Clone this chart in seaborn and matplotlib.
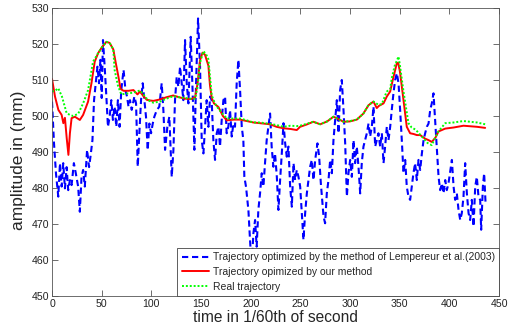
import matplotlib
matplotlib.use("Agg")
import matplotlib.pyplot as plt
import seaborn as sns
import pandas as pd

# blue: Lempereur et al. (2003)
lemp_t = [0, 2, 4, 6.3, 8, 9.7, 11.3, 13, 14.7, 16.3, 18, 19.7, 22, 24, 26.3, 28, 29.7, 31.3, 33,
          35.3, 37.3, 38.7, 40.7, 42.3, 44, 45.7, 47.3, 48.7, 50, 51.3, 53, 54.7, 56.3, 58, 59.7,
          61.3, 63, 64.7, 66.3, 68, 69.7, 72, 74, 75.5, 77, 78.5, 80.2, 82.9, 84.6, 86.3, 87.9,
          89.6, 91.3, 93, 94.6, 96.3, 98, 99.7, 101.4, 103, 105.4, 108, 110.4, 112.1, 113.8, 116.1,
          118.1, 120.5, 122.2, 123.8, 125.5, 127.2, 128.9, 130.5, 132.2, 133.9, 135.6, 137.3, 139.6,
          141.6, 143.3, 145, 147, 149, 150.7, 152.4, 154, 155.7, 157.4, 159.1, 160.7, 162.4, 164.1,
          165.8, 167.5, 169.1, 170.8, 172.5, 174.2, 175.8, 177.5, 179.2, 180.9, 182.6, 184.2, 185.9,
          187.6, 189.3, 191, 192.6, 193.6, 195.3, 197.7, 199.3, 201, 202.7, 204.4, 206, 207.7, 209.4,
          211.1, 212.8, 214.4, 216.1, 217.8, 219.5, 221.1, 222.8, 224.5, 226.3, 227.9, 229.6, 231.3,
          233, 234.7, 236.3, 238, 239.7, 241.4, 243.1, 244.7, 246.4, 248.1, 249.8, 251.4, 253.1,
          254.8, 256.5, 258.2, 259.8, 261.5, 263.2, 264.9, 267.2, 268.9, 270.6, 273.3, 274.9, 276.6,
          278.3, 280, 281.7, 283.3, 285, 286.7, 288.4, 290, 291.7, 293.4, 295.1, 296.8, 298.4, 300.1,
          301.8, 303.5, 305.1, 306.8, 308.5, 310.2, 311.8, 313.5, 316.9, 318.6, 320.2, 321.9, 323.6,
          325.3, 326.9, 328.6, 330.3, 332, 333.7, 335.3, 337, 338.7, 340.4, 342, 343.7, 345.4, 347.1,
          348.8, 350.4, 352.1, 353.8, 355.5, 357.1, 358.8, 360.5, 362.2, 363.8, 365.5, 367.2, 368.9,
          370.6, 372.3, 374, 375.6, 377.3, 379, 380.7, 382.3, 384, 386, 387.4, 389.1, 390.7, 392.4,
          394.1, 395.8, 397.4, 399.1, 402.5, 404.2, 405.8, 407.5, 409.2, 410.9, 412.5, 414.2, 415.9,
          417.6, 419.3, 420.9, 422.6, 424.3, 426, 427.6, 429.3, 431, 432, 433.7, 435, 436.4]
lemp_y = [504, 492.4, 484, 477.6, 486.9, 480.4, 486.9, 479.9, 485.8, 479.4, 482.2, 480.8, 486.9, 484,
          480.4, 473.4, 483.1, 485, 480.4, 490.6, 485.8, 488.7, 493.3, 504.4, 509.1, 513.7, 509.1,
          515.6, 505, 521.1, 513.7, 505.4, 497, 499.8, 504.4, 498.9, 502.6, 497, 504.4, 497, 507.2,
          512.8, 507, 505.4, 502.6, 504.4, 501.7, 505.4, 503.5, 485.9, 495.2, 504.4, 509.1, 504.4,
          499.8, 490.5, 497.9, 495.2, 497.9, 499.8, 501.6, 502.6, 509.1, 501.6, 490.6, 497, 499.8,
          483.1, 490.6, 504.4, 510.9, 508.1, 513.7, 509.1, 504.4, 521.1, 509.1, 503.5, 522, 506.3,
          490.6, 509.1, 527.1, 513.7, 493.3, 489.6, 497, 504.4, 497, 505.4, 504.4, 493.3, 487.8,
          495.2, 497, 491.5, 498.9, 504.4, 505.4, 495.2, 497, 501.6, 494.3, 497.9, 497, 509.1, 515.6,
          507.2, 497, 493.3, 483.1, 480.3, 473.8, 465.6, 458, 467.4, 471.1, 463.7, 473.9, 478.5,
          484.1, 480.4, 486.9, 493.3, 497, 500.7, 491.5, 485.9, 489.6, 483.1, 473.9, 482.2, 489.6,
          498, 492.4, 488.7, 491.5, 480.4, 474.8, 486.9, 482.2, 485, 483.1, 480.4, 473, 465.6, 473,
          478.5, 482.2, 485.9, 487.8, 482.2, 487.8, 492.4, 488.7, 481.3, 472.1, 470.2, 478.5, 482.2,
          487.8, 484.1, 493.3, 498.9, 504.4, 495.2, 507.2, 510, 501.7, 492.4, 477.6, 484.1, 487.8,
          483.1, 493.3, 486.9, 491.5, 485.9, 478.5, 486.9, 491.5, 495.2, 497.9, 494.3, 497, 502.6,
          491.5, 493.3, 495.2, 491.5, 495.2, 486.9, 491.5, 497, 493.3, 497, 501.7, 506.3, 510, 511.9,
          509.1, 501.7, 493.3, 484.1, 487.8, 480.4, 477.6, 476.7, 480.4, 484.1, 486.9, 482.2, 487.8,
          485, 489.6, 493.3, 495.2, 497, 497.9, 501.7, 503.5, 506.3, 497, 490.6, 483.1, 479.4, 481.3,
          478.5, 482.2, 479.4, 481.3, 487.8, 480.4, 476.7, 478.5, 473.9, 471.1, 473, 477.6, 486.9,
          478.5, 473, 471.1, 476.7, 469.3, 480.4, 483.1, 477.6, 476.7, 468.4, 480.4, 484.1, 475.8]

# red: our method
ours_t = [0, 3, 6.4, 9.7, 11.4, 13, 14.8, 16.5, 18, 19.7, 23, 28, 31.3, 36.3, 39.7, 43, 46.3, 50,
          54.7, 58, 61.7, 64, 66.8, 69, 72, 77, 82, 86, 88.6, 92, 95.4, 99, 102, 108.7, 115, 122, 128,
          134, 140, 144, 146.5, 149, 151.5, 154, 157.4, 159, 160.8, 163, 167.5, 172, 176, 183, 189.3,
          196, 202.7, 209.4, 219.5, 226, 232.9, 240, 246.4, 249.7, 256, 263, 270, 277, 283.3, 288,
          293.4, 300, 306.8, 313.5, 318.6, 323.6, 326.9, 329, 333.7, 337, 340.4, 343, 347.1, 348.5,
          350.4, 353.8, 357.1, 360.5, 364, 367.2, 370.6, 375.6, 379, 382.3, 386, 389, 395.8, 404.2,
          414.2, 427.7, 436]
ours_y = [510.3, 505.4, 501.7, 500.3, 498, 499.5, 493.8, 489.2, 495.2, 499.4, 499.8, 498.9, 500.3,
          504, 509.1, 515.1, 517.4, 519, 520.6, 520.3, 518.5, 515, 511, 507.5, 507, 507, 507.2, 506,
          506.8, 505.5, 504.5, 504.3, 504.2, 504.6, 505.2, 505.7, 505.2, 504.8, 504.7, 505.2, 509,
          515.5, 517.6, 517, 514, 508.5, 505, 503.5, 502.5, 500, 498.8, 499, 499, 498.6, 498.2, 498,
          497.7, 497, 496.6, 496.4, 496.1, 497, 497.6, 498.4, 497.7, 498.5, 499.8, 499.2, 498.4,
          498.5, 499, 500.7, 503, 504, 502.2, 502.8, 503.5, 505.4, 506.8, 510, 514.7, 514.8, 512,
          504.4, 497, 495.2, 495, 494.7, 494.7, 493.7, 493.3, 492.8, 494, 495.7, 496.5, 496.8,
          497.3, 497, 496.7]

# green: real trajectory
real_t = [0, 3, 6.3, 10, 14.7, 18, 21.3, 26.3, 31.3, 36.3, 41.3, 46.3, 50, 54.7, 58, 61.7, 63,
          66.3, 69.7, 74, 77, 82, 88.6, 92, 95.4, 99, 102, 108.7, 115, 122, 128, 134, 140, 144, 146.5,
          149, 152.4, 155, 157.4, 159, 160.8, 164, 167.5, 172, 176, 183, 189.3, 196, 202.7, 209.4,
          219.5, 226, 232.9, 240, 246.4, 249.7, 256, 263, 270, 277, 283.3, 288, 293.4, 300, 306.8,
          313.5, 318.6, 323.6, 328.6, 332, 335.3, 337, 340.4, 342, 345, 348.8, 350.4, 353.8, 358.8,
          362, 366, 373.9, 378, 382.3, 385.7, 389, 395.8, 404.2, 414.2, 427.7, 436]
real_y = [506.8, 507, 507.7, 505.4, 500.8, 500.3, 500, 500.6, 503.5, 507.2, 515.1, 517.4, 519,
          520.6, 520.3, 518.5, 512.8, 508.5, 506, 506.2, 506.3, 506.5, 507.1, 506, 504.8, 504, 503.7,
          504, 504.8, 505.5, 505.2, 505, 504.8, 504.8, 508, 514.8, 518, 517.2, 515.8, 511, 505.7,
          503.5, 502, 500.5, 499.3, 499.3, 499.3, 498.8, 498.2, 498.2, 497.8, 497.5, 497, 497.3,
          497.2, 497.3, 497.8, 498.4, 497.7, 498.5, 499.8, 499.2, 498.4, 498.6, 499, 500.7, 503.1,
          504, 503.1, 503.3, 505.7, 506.8, 507.5, 510.5, 514, 516.5, 513.7, 506.8, 498, 496.8,
          496.2, 493.8, 492.5, 491.9, 494, 495.7, 498, 498.2, 498.6, 498.2, 497.7]

labels = ["Trajectory optimized by the method of Lempereur et al.(2003)",
          "Trajectory opimized by our method",
          "Real trajectory"]

sns.set_style("ticks")
plt.rcParams["font.family"] = ["Liberation Sans", "DejaVu Sans"]

fig = plt.figure(figsize=(5.08, 3.28), dpi=100)
ax = fig.add_axes([0.1024, 0.0976, 0.88, 0.878])

sns.lineplot(x=lemp_t, y=lemp_y, ax=ax, color="#0000ff", lw=1.5, linestyle=(0, (3, 1.8)),
             label=labels[0], sort=False, estimator=None)
sns.lineplot(x=ours_t, y=ours_y, ax=ax, color="#ff0000", lw=1.4, label=labels[1],
             sort=False, estimator=None)
sns.lineplot(x=real_t, y=real_y, ax=ax, color="#00ff00", lw=1.4, linestyle=(0, (1, 1)),
             label=labels[2], sort=False, estimator=None)

ax.set_xlim(0, 450)
ax.set_ylim(450, 530)
ax.set_xticks(range(0, 451, 50))
ax.set_yticks(range(450, 531, 10))
ax.tick_params(direction="in", top=True, right=True, length=4, width=0.6,
               labelsize=7.6, pad=2, colors="#555555", labelcolor="#222222")
for s in ax.spines.values():
    s.set_visible(True)
    s.set_linewidth(0.6)
    s.set_color("#555555")

ax.set_xlabel("time in 1/60th of second", fontsize=11.2, labelpad=1)
ax.set_ylabel("amplitude in (mm)", fontsize=12.5, labelpad=3)
ax.yaxis.set_label_coords(-0.058, 0.47)

leg = ax.legend(loc="lower right", borderaxespad=0, fontsize=7.5, fancybox=False,
                framealpha=1, edgecolor="#444444", handlelength=2.6, labelspacing=0.45,
                borderpad=0.4, handletextpad=0.4)
leg.get_frame().set_linewidth(0.6)

fig.savefig("out.png", dpi=100)
